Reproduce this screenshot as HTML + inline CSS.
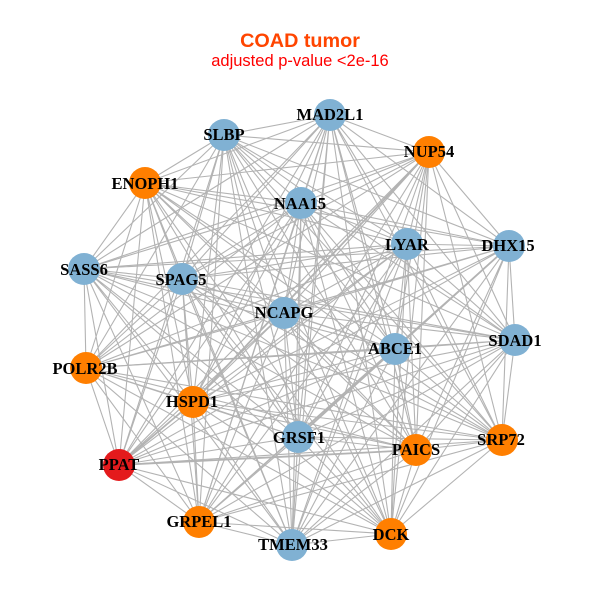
<!DOCTYPE html>
<html><head><meta charset="utf-8"><style>html,body{margin:0;padding:0;background:#fff}svg{display:block}
.n{font:bold 16.5px "Liberation Serif",serif;text-anchor:middle;fill:#000}
.t{font-family:"Liberation Sans",sans-serif;text-anchor:middle}</style></head><body>
<svg width="600" height="600" viewBox="0 0 600 600" xmlns="http://www.w3.org/2000/svg">
<rect width="600" height="600" fill="#fff"/>
<g fill="none" stroke="#b3b3b3" stroke-width="1.1">
<path d="M330 115L224 135M330 115L429 152M330 115L145 183M330 115L301 203M330 115L407 244M330 115L509 246M330 115L84 269M330 115L182 279M330 115L284 313M330 115L515 340M330 115L395 349M330 115L86 368M330 115L193 402M330 115L298 437M330 115L416 450M330 115L502 440M330 115L119 465M330 115L199 522M330 115L292 545M330 115L391 534"/>
<path d="M224 135L429 152M224 135L145 183M224 135L301 203M224 135L407 244M224 135L509 246M224 135L84 269M224 135L182 279M224 135L284 313M224 135L515 340M224 135L395 349M224 135L86 368M224 135L193 402M224 135L298 437M224 135L416 450M224 135L502 440M224 135L119 465M224 135L199 522M224 135L292 545M224 135L391 534"/>
<path d="M429 152L145 183M429 152L301 203M429 152L407 244M429 152L509 246M429 152L84 269M429 152L182 279M429 152L284 313M429 152L515 340M429 152L395 349M429 152L86 368M429 152L193 402M429 152L298 437M429 152L416 450M429 152L502 440M429 152L119 465M429 152L199 522M429 152L292 545M429 152L391 534"/>
<path d="M145 183L301 203M145 183L407 244M145 183L509 246M145 183L84 269M145 183L182 279M145 183L284 313M145 183L515 340M145 183L395 349M145 183L86 368M145 183L193 402M145 183L298 437M145 183L416 450M145 183L502 440M145 183L119 465M145 183L199 522M145 183L292 545M145 183L391 534"/>
<path d="M301 203L407 244M301 203L509 246M301 203L84 269M301 203L182 279M301 203L284 313M301 203L515 340M301 203L395 349M301 203L86 368M301 203L193 402M301 203L298 437M301 203L416 450M301 203L502 440M301 203L119 465M301 203L199 522M301 203L292 545M301 203L391 534"/>
<path d="M407 244L509 246M407 244L84 269M407 244L182 279M407 244L284 313M407 244L515 340M407 244L395 349M407 244L86 368M407 244L193 402M407 244L298 437M407 244L416 450M407 244L502 440M407 244L119 465M407 244L199 522M407 244L292 545M407 244L391 534"/>
<path d="M509 246L84 269M509 246L182 279M509 246L284 313M509 246L515 340M509 246L395 349M509 246L86 368M509 246L193 402M509 246L298 437M509 246L416 450M509 246L502 440M509 246L119 465M509 246L199 522M509 246L292 545M509 246L391 534"/>
<path d="M84 269L182 279M84 269L284 313M84 269L515 340M84 269L395 349M84 269L86 368M84 269L193 402M84 269L298 437M84 269L416 450M84 269L502 440M84 269L119 465M84 269L199 522M84 269L292 545M84 269L391 534"/>
<path d="M182 279L284 313M182 279L515 340M182 279L395 349M182 279L86 368M182 279L193 402M182 279L298 437M182 279L416 450M182 279L502 440M182 279L119 465M182 279L199 522M182 279L292 545M182 279L391 534"/>
<path d="M284 313L515 340M284 313L395 349M284 313L86 368M284 313L193 402M284 313L298 437M284 313L416 450M284 313L502 440M284 313L119 465M284 313L199 522M284 313L292 545M284 313L391 534"/>
<path d="M515 340L395 349M515 340L86 368M515 340L193 402M515 340L298 437M515 340L416 450M515 340L502 440M515 340L119 465M515 340L199 522M515 340L292 545M515 340L391 534"/>
<path d="M395 349L86 368M395 349L193 402M395 349L298 437M395 349L416 450M395 349L502 440M395 349L119 465M395 349L199 522M395 349L292 545M395 349L391 534"/>
<path d="M86 368L193 402M86 368L298 437M86 368L416 450M86 368L502 440M86 368L119 465M86 368L199 522M86 368L292 545M86 368L391 534"/>
<path d="M193 402L298 437M193 402L416 450M193 402L502 440M193 402L119 465M193 402L199 522M193 402L292 545M193 402L391 534"/>
<path d="M298 437L416 450M298 437L502 440M298 437L119 465M298 437L199 522M298 437L292 545M298 437L391 534"/>
<path d="M416 450L502 440M416 450L119 465M416 450L199 522M416 450L292 545M416 450L391 534"/>
<path d="M502 440L119 465M502 440L199 522M502 440L292 545M502 440L391 534"/>
<path d="M119 465L199 522M119 465L292 545M119 465L391 534"/>
<path d="M199 522L292 545M199 522L391 534"/>
<path d="M292 545L391 534"/>
<path stroke-width="1.8" d="M429 152L193 402M509 246L395 349M395 349L298 437M119 465L416 450M119 465L193 402"/>
</g>
<g fill="#80b1d3">
<circle cx="330" cy="115" r="16"/><circle cx="224" cy="135" r="16"/><circle cx="301" cy="203" r="16"/><circle cx="407" cy="244" r="16"/><circle cx="509" cy="246" r="16"/><circle cx="84" cy="269" r="16"/><circle cx="182" cy="279" r="16"/><circle cx="284" cy="313" r="16"/><circle cx="515" cy="340" r="16"/><circle cx="395" cy="349" r="16"/><circle cx="298" cy="437" r="16"/><circle cx="292" cy="545" r="16"/>
</g>
<g fill="#ff7f00">
<circle cx="429" cy="152" r="16"/><circle cx="145" cy="183" r="16"/><circle cx="86" cy="368" r="16"/><circle cx="193" cy="402" r="16"/><circle cx="416" cy="450" r="16"/><circle cx="502" cy="440" r="16"/><circle cx="199" cy="522" r="16"/><circle cx="391" cy="534" r="16"/>
</g>
<circle cx="119" cy="465" r="16" fill="#e41a1c"/>
<g class="n">
<text class="n" x="330" y="120">MAD2L1</text>
<text class="n" x="224" y="140">SLBP</text>
<text class="n" x="429" y="157">NUP54</text>
<text class="n" x="145" y="189">ENOPH1</text>
<text class="n" x="300" y="209">NAA15</text>
<text class="n" x="407" y="250">LYAR</text>
<text class="n" x="508" y="251">DHX15</text>
<text class="n" x="84" y="275">SASS6</text>
<text class="n" x="181" y="285">SPAG5</text>
<text class="n" x="284" y="318">NCAPG</text>
<text class="n" x="515" y="346">SDAD1</text>
<text class="n" x="395" y="354">ABCE1</text>
<text class="n" x="85" y="374">POLR2B</text>
<text class="n" x="192" y="407">HSPD1</text>
<text class="n" x="299" y="443">GRSF1</text>
<text class="n" x="416" y="455">PAICS</text>
<text class="n" x="501" y="445">SRP72</text>
<text class="n" x="119" y="470">PPAT</text>
<text class="n" x="199" y="527">GRPEL1</text>
<text class="n" x="293" y="550">TMEM33</text>
<text class="n" x="391" y="540">DCK</text>
</g>
<text class="t" x="300" y="47" font-size="19.8" font-weight="bold" fill="#ff4500">COAD tumor</text>
<text class="t" x="300" y="66" font-size="16.5" fill="#ff0000">adjusted p-value &lt;2e-16</text>
</svg>
</body></html>
